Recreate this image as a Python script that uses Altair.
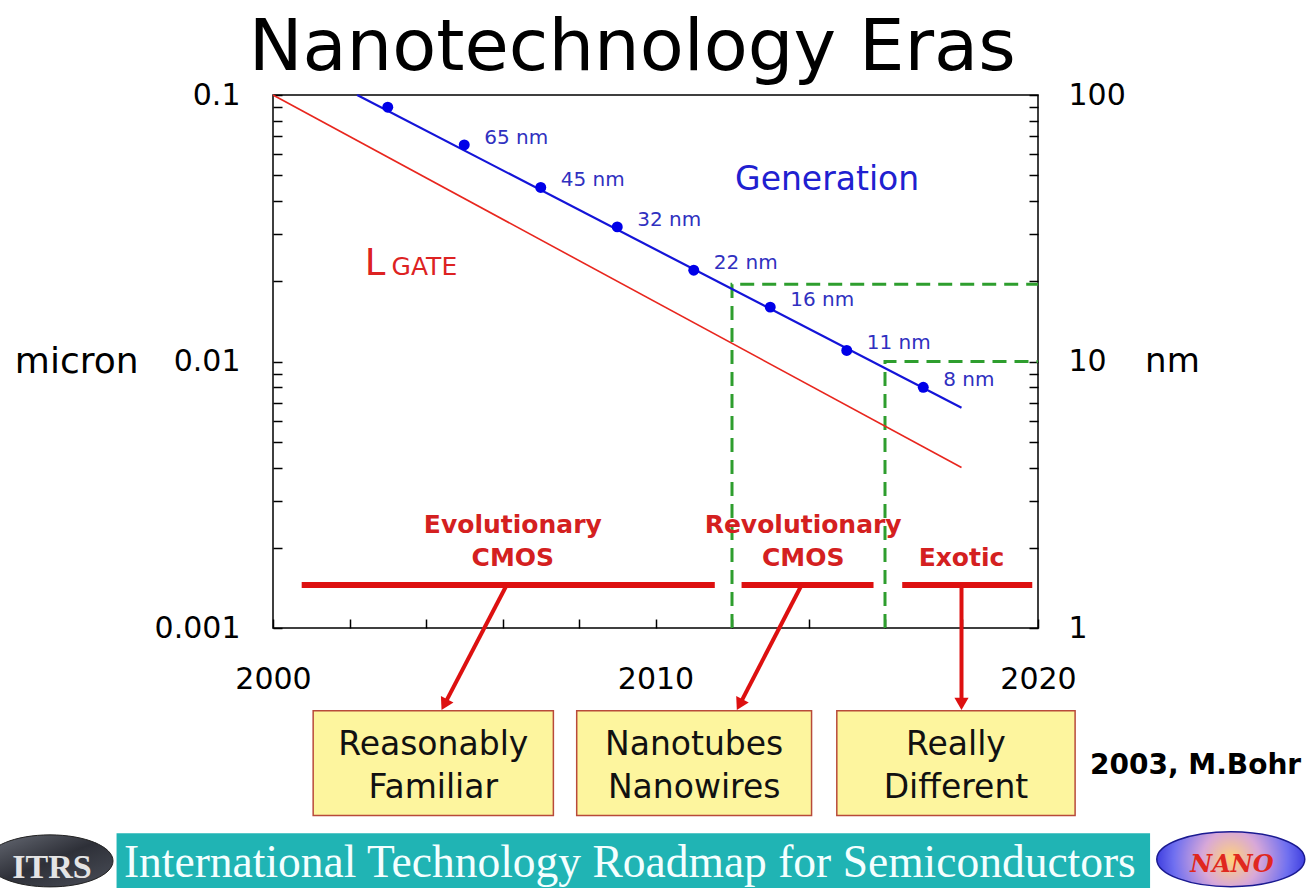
import altair as alt
import pandas as pd

# ---------------- data ----------------
# technology generations: year of introduction and node size (nm)
node_year = [2003, 2005, 2007, 2009, 2011, 2013, 2015, 2017]
node_nm = [90, 65, 45, 32, 22, 16, 11, 8]
node_label = ["", "65 nm", "45 nm", "32 nm", "22 nm", "16 nm", "11 nm", "8 nm"]

# straight trend lines on the log scale (end points, microns)
gen_line_year = [2002.2, 2018.0]
gen_line_um = [0.1, 0.0067]
lgate_line_year = [2000.0, 2018.0]
lgate_line_um = [0.1, 0.004]

# era thresholds: year and size where each dashed boundary turns right
bound_year = [2012, 2016]
bound_um = [0.0195, 0.01]

# era spans drawn as thick bars near the bottom of the plot
era_from = [2000.75, 2012.25, 2016.45]
era_to = [2011.55, 2015.7, 2019.85]
era_bar_um = 0.00145

# axis ticks
x_ticks = [2000, 2002, 2004, 2006, 2008, 2010, 2012, 2014, 2016, 2018, 2020]
y_ticks = [0.001, 0.002, 0.003, 0.004, 0.005, 0.006, 0.007, 0.008, 0.009,
           0.01, 0.02, 0.03, 0.04, 0.05, 0.06, 0.07, 0.08, 0.09, 0.1]

# annotation anchors (years, microns)
era_text = ["Evolutionary", "CMOS", "Revolutionary", "CMOS", "Exotic"]
era_text_year = [2006.27, 2006.27, 2013.86, 2013.86, 2018.0]
era_text_um = [0.00244, 0.00183, 0.00244, 0.00183, 0.00183]

arrow_from_year = [2006.11, 2013.82, 2018.0]
arrow_head_year = [2004.48, 2012.20, 2018.0]
arrow_head_um = [0.000516, 0.000516, 0.000519]
arrow_angle = [207.5, 207.5, 180]

box_from = [2001.05, 2007.94, 2014.74]
box_to = [2007.33, 2014.08, 2020.97]
box_top_um = 0.000489
box_bottom_um = 0.000198
box_line1 = ["Reasonably", "Nanotubes", "Really"]
box_line2 = ["Familiar", "Nanowires", "Different"]
box_line_um = [0.000364, 0.000251]

RED = "#dd1010"
BLUE = "#1414d8"
SANS = "DejaVu Sans"

xscale = alt.Scale(domain=[2000, 2020], nice=False, zero=False)
yscale = alt.Scale(type="log", domain=[0.001, 0.1], nice=False)

axis_common = dict(
    tickSize=9, offset=-9, domain=False, grid=False, ticks=True,
    tickColor="black", tickWidth=1.5, labelColor="black",
    labelFont=SANS, labelFontSize=30, labelOverlap=False, labelFlush=False,
    labelBound=False, title=None,
)

# the x axis is shared by every layer, so each layer carries the same definition
x_axis = alt.Axis(values=x_ticks, orient="bottom", labelPadding=36,
                  labelExpr="datum.value % 10 == 0 ? '' + datum.value : ''",
                  **axis_common)


def X(field="year"):
    return alt.X(field, type="quantitative", scale=xscale, axis=x_axis)


def Y(field="um", **kw):
    kw.setdefault("axis", None)
    return alt.Y(field, type="quantitative", scale=yscale, **kw)


nodes = pd.DataFrame({"year": node_year,
                      "um": [v / 1000 for v in node_nm],
                      "label": node_label})

dots = alt.Chart(nodes).mark_circle(size=120, color="#0000e8", opacity=1).encode(
    x=X(),
    y=Y(axis=alt.Axis(values=y_ticks, orient="left", labelPadding=33,
                      labelExpr="datum.value == 0.1 ? '0.1' : datum.value == 0.01 ? '0.01' : datum.value == 0.001 ? '0.001' : ''",
                      **axis_common)),
)

dot_labels = alt.Chart(nodes).mark_text(
    align="left", baseline="middle", dx=20, dy=-7, font=SANS, fontSize=20, color="#3030c0"
).encode(x=X(), y=Y(), text="label:N")

gen_line = alt.Chart(pd.DataFrame({"year": gen_line_year, "um": gen_line_um})).mark_line(
    color=BLUE, strokeWidth=2.2).encode(x=X(), y=Y())

lgate_line = alt.Chart(pd.DataFrame({"year": lgate_line_year, "um": lgate_line_um})).mark_line(
    color="#e8261e", strokeWidth=1.6).encode(
    x=X(),
    y=Y(axis=alt.Axis(values=y_ticks, orient="right", labelPadding=30,
                      labelExpr="datum.value == 0.1 ? '100' : datum.value == 0.01 ? '10' : datum.value == 0.001 ? '1' : ''",
                      **axis_common)),
)

# dashed era boundaries: up from the x axis, then across to the right edge
bound_rows = []
for i, (yr, um) in enumerate(zip(bound_year, bound_um)):
    bound_rows += [
        {"id": i, "step": 0, "year": yr, "um": 0.001},
        {"id": i, "step": 1, "year": yr, "um": um},
        {"id": i, "step": 2, "year": 2020, "um": um},
    ]
bounds = alt.Chart(pd.DataFrame(bound_rows)).mark_line(
    color="#2e9e2e", strokeWidth=3, strokeDash=[14, 8]).encode(
    x=X(), y=Y(), detail="id:N", order="step:Q")

era_df = pd.DataFrame({"year": era_from, "year2": era_to, "um": [era_bar_um] * 3})
era_bars = alt.Chart(era_df).mark_rule(color=RED, strokeWidth=6).encode(
    x=X(), x2="year2", y=Y())

era_labels = alt.Chart(pd.DataFrame({"t": era_text, "year": era_text_year, "um": era_text_um})).mark_text(
    font=SANS, fontWeight="bold", fontSize=25, color="#d42020", align="center", baseline="middle"
).encode(x=X(), y=Y(), text="t:N")

arrow_df = pd.DataFrame({
    "year": arrow_from_year, "um": [era_bar_um] * 3,
    "year2": arrow_head_year, "um2": arrow_head_um, "angle": arrow_angle,
})
arrow_lines = alt.Chart(arrow_df).mark_rule(color=RED, strokeWidth=4).encode(
    x=X(), y=Y(), x2="year2", y2="um2")
arrow_heads = alt.Chart(arrow_df).mark_point(
    shape="triangle-up", filled=True, size=200, color=RED, opacity=1).encode(
    x=X("year2"), y=Y("um2"), angle=alt.Angle("angle:Q", scale=None))

box_df = pd.DataFrame({"year": box_from, "year2": box_to,
                       "um": [box_top_um] * 3, "um2": [box_bottom_um] * 3})
boxes = alt.Chart(box_df).mark_rect(fill="#fdf59e", stroke="#b84a3a", strokeWidth=1.5).encode(
    x=X(), x2="year2", y=Y(), y2="um2")

box_text_rows = []
for a, b, l1, l2 in zip(box_from, box_to, box_line1, box_line2):
    c = (a + b) / 2
    box_text_rows.append({"year": c, "um": box_line_um[0], "t": l1})
    box_text_rows.append({"year": c, "um": box_line_um[1], "t": l2})
box_text = alt.Chart(pd.DataFrame(box_text_rows)).mark_text(
    font=SANS, fontSize=33, color="#111111", align="center", baseline="middle"
).encode(x=X(), y=Y(), text="t:N")

# free text annotations
notes = pd.DataFrame([
    {"t": "Nanotechnology Eras", "year": 2009.39, "um": 0.1241, "size": 72, "align": "center", "base": "alphabetic", "color": "black", "weight": "normal"},
    {"t": "Generation", "year": 2012.08, "um": 0.048, "size": 33, "align": "left", "base": "middle", "color": "#2020d0", "weight": "normal"},
    {"t": "micron", "year": 1993.25, "um": 0.01, "size": 36, "align": "left", "base": "middle", "color": "black", "weight": "normal"},
    {"t": "nm", "year": 2022.8, "um": 0.01, "size": 34, "align": "left", "base": "middle", "color": "black", "weight": "normal"},
    {"t": "2003, M.Bohr", "year": 2021.36, "um": 0.000303, "size": 28, "align": "left", "base": "middle", "color": "black", "weight": "bold"},
])


def note_layer(row):
    return alt.Chart(pd.DataFrame([row])).mark_text(
        font=SANS, fontSize=row["size"], align=row["align"], baseline=row["base"],
        color=row["color"], fontWeight=row["weight"]
    ).encode(x=X(), y=Y(), text="t:N")


note_layers = [note_layer(r) for r in notes.to_dict("records")]

lgate_l = alt.Chart(pd.DataFrame([{"t": "L", "year": 2002.4, "um": 0.02112}])).mark_text(
    font=SANS, fontSize=37, align="left", baseline="alphabetic", color="#dd2222"
).encode(x=X(), y=Y(), text="t:N")
lgate_sub = alt.Chart(pd.DataFrame([{"t": "GATE", "year": 2003.1, "um": 0.02112}])).mark_text(
    font=SANS, fontSize=25, align="left", baseline="alphabetic", color="#dd2222"
).encode(x=X(), y=Y(), text="t:N")

# footer banner and logos
banner = alt.Chart(pd.DataFrame([{"year": 1995.91, "year2": 2022.93, "um": 0.0001697, "um2": 0.0001058}])).mark_rect(
    fill="#20b4b4").encode(x=X(), x2="year2", y=Y(), y2="um2")
banner_text = alt.Chart(pd.DataFrame([{"t": "International Technology Roadmap for Semiconductors",
                                       "year": 2009.33, "um": 0.0001164}])).mark_text(
    font="Liberation Serif", fontSize=45.5, color="#f4ffff", align="center", baseline="alphabetic"
).encode(x=X(), y=Y(), text="t:N")

ELLIPSE_ITRS = "M -1 0 A 1 0.413 0 1 0 1 0 A 1 0.413 0 1 0 -1 0 Z"
ELLIPSE_NANO = "M -1 0 A 1 0.372 0 1 0 1 0 A 1 0.372 0 1 0 -1 0 Z"

itrs_logo = alt.Chart(pd.DataFrame([{"year": 1994.17, "um": 0.0001337}])).mark_point(
    shape=ELLIPSE_ITRS, size=126 * 126, filled=True, opacity=1,
    fill={"gradient": "linear", "x1": 0, "y1": 0, "x2": 1, "y2": 1,
          "stops": [{"offset": 0, "color": "#6a6e78"}, {"offset": 0.5, "color": "#2e3038"},
                    {"offset": 1, "color": "#4a4e58"}]},
    stroke="#222222", strokeWidth=1).encode(x=X(), y=Y())
itrs_text = alt.Chart(pd.DataFrame([{"t": "ITRS", "year": 1994.22, "um": 0.0001153}])).mark_text(
    font="Liberation Serif", fontSize=34, fontWeight="bold", color="#e4e4e4", align="center",
    baseline="alphabetic").encode(x=X(), y=Y(), text="t:N")

nano_logo = alt.Chart(pd.DataFrame([{"year": 2025.04, "um": 0.0001357}])).mark_point(
    shape=ELLIPSE_NANO, size=148 * 148, filled=True, opacity=1,
    fill={"gradient": "radial", "x1": 0.5, "y1": 0.5, "r1": 0, "x2": 0.5, "y2": 0.5, "r2": 0.55,
          "stops": [{"offset": 0, "color": "#ffd27a"}, {"offset": 0.35, "color": "#d8a8d8"},
                    {"offset": 0.7, "color": "#7070f0"}, {"offset": 1, "color": "#2a2ad8"}]},
    stroke="#1a1a90", strokeWidth=1.5).encode(x=X(), y=Y())
nano_text = alt.Chart(pd.DataFrame([{"t": "NANO", "year": 2025.07, "um": 0.0001215}])).mark_text(
    font="DejaVu Serif", fontSize=24, fontWeight="bold", fontStyle="italic", color="#e0281e",
    align="center", baseline="alphabetic").encode(x=X(), y=Y(), text="t:N")

chart = alt.layer(
    banner, banner_text, itrs_logo, itrs_text, nano_logo, nano_text,
    bounds, lgate_line, gen_line, dots, dot_labels,
    era_bars, era_labels, arrow_lines, arrow_heads, boxes, box_text,
    lgate_l, lgate_sub, *note_layers,
).resolve_scale(y="independent").properties(
    width=765, height=533,
    autosize=alt.AutoSizeParams(type="none"),
    padding={"left": 273, "top": 95, "right": 274, "bottom": 260},
    background="white",
).configure_view(stroke="black", strokeWidth=1.5)

chart.save("out.html", embed_options={"renderer": "svg", "actions": False})
